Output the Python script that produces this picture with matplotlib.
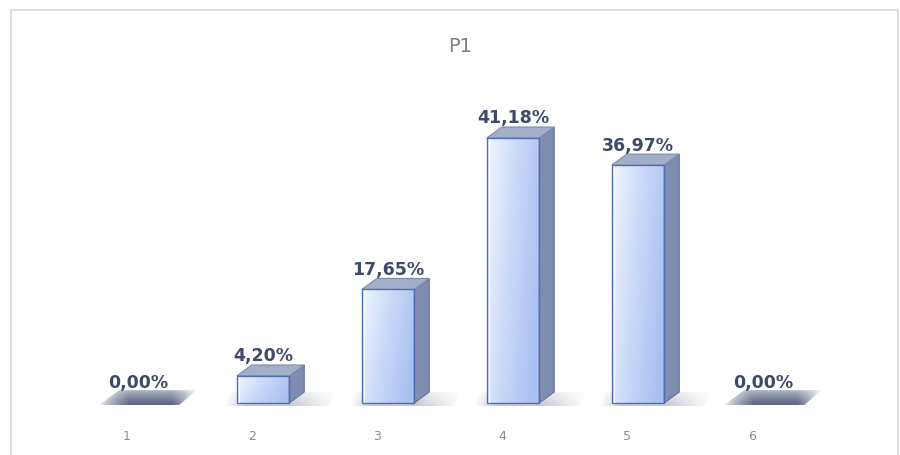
import numpy as np
import matplotlib.pyplot as plt
from matplotlib.patches import Polygon, Rectangle
from matplotlib.colors import LinearSegmentedColormap

categories = ["1", "2", "3", "4", "5", "6"]
values = [0.00, 4.20, 17.65, 41.18, 36.97, 0.00]
labels = ["0,00%", "4,20%", "17,65%", "41,18%", "36,97%", "0,00%"]
title = "P1"

# bar geometry in data units (x: category index, y: percent)
half_w = 0.21
dx, dy = 0.12, 1.71

fig = plt.figure(figsize=(9, 4.55), dpi=100)
ax = fig.add_axes([0, 0, 1, 1])
ax.set_xlim(-0.104, 7.096)
ax.set_ylim(-8.08, 62.63)
ax.axis("off")

# chart frame
fig.patches.append(Rectangle((11 / 900, -0.1), 887 / 900, 1 - 10 / 455 + 0.1,
                             transform=fig.transFigure, fill=False,
                             edgecolor="#d9d9d9", linewidth=1.2))

front_cmap = LinearSegmentedColormap.from_list("front", ["#f2f6fe", "#c9d9f8", "#a9c1f0"])
grad = np.tile(np.linspace(0, 1, 64), (32, 1))
vgrad = np.linspace(0, 0.35, 32)[:, None]


def faded_patch(pts, rgb, alpha, zorder):
    # parallelogram filled with a colour whose alpha follows a 2d map (row 0 = top)
    poly = Polygon(pts, closed=True, facecolor="none", edgecolor="none")
    ax.add_patch(poly)
    xs = [p[0] for p in pts]
    ys = [p[1] for p in pts]
    img = np.zeros(alpha.shape + (4,))
    img[..., :3] = rgb
    img[..., 3] = alpha
    im = ax.imshow(img, extent=[min(xs), max(xs), min(ys), max(ys)], aspect="auto",
                   interpolation="bilinear", zorder=zorder)
    im.set_clip_path(poly)


t = np.linspace(0, 1, 100)
s = np.linspace(0, 1, 20)[:, None]
shadow_alpha = 0.32 * np.clip(np.minimum(t / 0.2, (1 - t) / 0.4), 0, 1) * (0.4 + 0.6 * s)
flat_alpha = 0.9 * np.clip(np.minimum(t / 0.3, (1 - t) / 0.25), 0, 1) ** 0.7 * (0.45 + 0.55 * s ** 0.8)
slate = np.array([0x47, 0x53, 0x70]) / 255

for i, (v, lab) in enumerate(zip(values, labels), start=1):
    x0, x1 = i - half_w, i + half_w

    if v == 0:
        # flat bar: only the top face shows, blurred into the floor
        faded_patch([(x0 - 0.1, -0.3), (x1 + 0.12, -0.3), (x1 + dx + 0.14, dy + 0.3), (x0 + dx - 0.06, dy + 0.3)],
                    slate, flat_alpha, 2)
    else:
        # soft floor shadow
        faded_patch([(x0 - 0.1, -0.5), (x1 + dx + 0.2, -0.5), (x1 + dx + 0.26, dy), (x0 - 0.04, dy)],
                    slate, shadow_alpha, 1)
        # front face with gradient
        ax.imshow(grad + vgrad, cmap=front_cmap, extent=[x0, x1, 0, v], aspect="auto",
                  origin="upper", vmin=0, vmax=1.2, zorder=3)
        ax.add_patch(Rectangle((x0, 0), x1 - x0, v, fill=False, edgecolor="#4f6fb5", linewidth=1.0, zorder=4))
        ax.plot([x0 + 0.02, x0 + 0.02], [0.2, v - 0.2], color="#ffffff", linewidth=0.8, alpha=0.8, zorder=4)
        # side face
        ax.add_patch(Polygon([(x1, 0), (x1 + dx, dy), (x1 + dx, v + dy), (x1, v)],
                             closed=True, facecolor="#7f8db0", edgecolor="#63739a", linewidth=0.8, zorder=3))
        # top face
        ax.add_patch(Polygon([(x0, v), (x1, v), (x1 + dx, v + dy), (x0 + dx, v + dy)],
                             closed=True, facecolor="#a3aec8", edgecolor="#7d8bab", linewidth=0.8, zorder=3))

    ax.text(i, v + dy + 0.55, lab, ha="center", va="baseline", fontsize=12.5,
            fontweight="bold", color="#3f4b66", zorder=5)

for i, c in enumerate(categories, start=1):
    ax.text(i - 0.088, -5.28, c, ha="center", va="center", fontsize=9, color="#8c8c8c")

fig.text(460 / 900, 1 - 46 / 455, title, ha="center", va="center", fontsize=14, color="#808080")

fig.savefig("out.png", dpi=100)
